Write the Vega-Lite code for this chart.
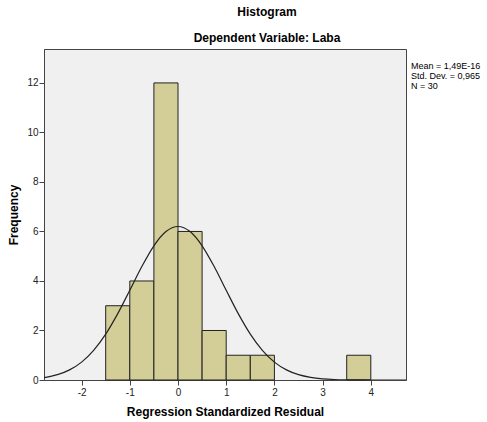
{
  "$schema": "https://vega.github.io/schema/vega-lite/v6.json",
  "width": 362,
  "height": 331,
  "autosize": "none",
  "padding": {"left": 44, "top": 49, "right": 81, "bottom": 42},
  "background": "white",
  "title": {
    "text": "Histogram",
    "subtitle": "Dependent Variable: Laba",
    "anchor": "middle",
    "dx": 42,
    "offset": 4,
    "font": "Liberation Sans",
    "fontSize": 12,
    "fontWeight": "bold",
    "color": "#000",
    "subtitleFont": "Liberation Sans",
    "subtitleFontSize": 12,
    "subtitleFontWeight": "bold",
    "subtitleColor": "#000",
    "subtitlePadding": 14
  },
  "config": {
    "view": {"fill": "#f0f0f0", "stroke": "#444", "strokeWidth": 1},
    "axis": {
      "labelFont": "Liberation Sans",
      "labelFontSize": 10,
      "labelColor": "#222",
      "titleFont": "Liberation Sans",
      "titleFontSize": 12,
      "titleFontWeight": "bold",
      "titleColor": "#000",
      "grid": false,
      "domainColor": "#444",
      "tickColor": "#444",
      "tickSize": 5
    }
  },
  "datasets": {
    "bins": [
      {"start": -1.5, "end": -1.0, "count": 3},
      {"start": -1.0, "end": -0.5, "count": 4},
      {"start": -0.5, "end": 0.0, "count": 12},
      {"start": 0.0, "end": 0.5, "count": 6},
      {"start": 0.5, "end": 1.0, "count": 2},
      {"start": 1.0, "end": 1.5, "count": 1},
      {"start": 1.5, "end": 2.0, "count": 1},
      {"start": 3.5, "end": 4.0, "count": 1}
    ],
    "curve": [
      {"x": -2.8, "y": 0.09},
      {"x": -2.75, "y": 0.107},
      {"x": -2.5, "y": 0.216},
      {"x": -2.25, "y": 0.409},
      {"x": -2.0, "y": 0.723},
      {"x": -1.75, "y": 1.198},
      {"x": -1.5, "y": 1.853},
      {"x": -1.25, "y": 2.68},
      {"x": -1.0, "y": 3.625},
      {"x": -0.75, "y": 4.584},
      {"x": -0.5, "y": 5.421},
      {"x": -0.25, "y": 5.995},
      {"x": 0.0, "y": 6.2},
      {"x": 0.25, "y": 5.995},
      {"x": 0.5, "y": 5.421},
      {"x": 0.75, "y": 4.584},
      {"x": 1.0, "y": 3.625},
      {"x": 1.25, "y": 2.68},
      {"x": 1.5, "y": 1.853},
      {"x": 1.75, "y": 1.198},
      {"x": 2.0, "y": 0.723},
      {"x": 2.25, "y": 0.409},
      {"x": 2.5, "y": 0.216},
      {"x": 2.75, "y": 0.107},
      {"x": 3.0, "y": 0.049},
      {"x": 3.25, "y": 0.021},
      {"x": 3.5, "y": 0.009},
      {"x": 3.75, "y": 0.003},
      {"x": 4.0, "y": 0.001},
      {"x": 4.25, "y": 0.0},
      {"x": 4.75, "y": 0.0}
    ],
    "stats": [
      {"label": ["Mean = 1,49E-16", "Std. Dev. = 0,965", "N = 30"]}
    ]
  },
  "encoding": {
    "x": {
      "type": "quantitative",
      "scale": {"domain": [-2.78, 4.73], "nice": false, "zero": false},
      "axis": {"values": [-2, -1, 0, 1, 2, 3, 4], "labelExpr": "replace(datum.label, '\u2212', '-')", "title": "Regression Standardized Residual", "titlePadding": 9, "labelPadding": 2}
    },
    "y": {
      "type": "quantitative",
      "scale": {"domain": [0, 13.37], "nice": false},
      "axis": {"values": [0, 2, 4, 6, 8, 10, 12], "title": "Frequency", "titlePadding": 6, "labelPadding": 1}
    }
  },
  "layer": [
    {
      "data": {"name": "bins"},
      "mark": {"type": "rect", "fill": "#d3ce97", "stroke": "#222", "strokeWidth": 1},
      "encoding": {
        "x": {"field": "start", "type": "quantitative"},
        "x2": {"field": "end"},
        "y": {"field": "count", "type": "quantitative"},
        "y2": {"datum": 0}
      }
    },
    {
      "data": {"name": "curve"},
      "mark": {"type": "line", "color": "#222", "strokeWidth": 1.2, "interpolate": "monotone", "clip": true},
      "encoding": {
        "x": {"field": "x", "type": "quantitative"},
        "y": {"field": "y", "type": "quantitative"}
      }
    },
    {
      "data": {"name": "stats"},
      "mark": {"type": "text", "align": "left", "baseline": "top", "font": "Liberation Sans", "fontSize": 9, "lineHeight": 10, "color": "#000", "dx": 5},
      "encoding": {
        "x": {"datum": 4.73, "type": "quantitative"},
        "y": {"datum": 12.85, "type": "quantitative"},
        "text": {"field": "label"}
      }
    }
  ]
}
